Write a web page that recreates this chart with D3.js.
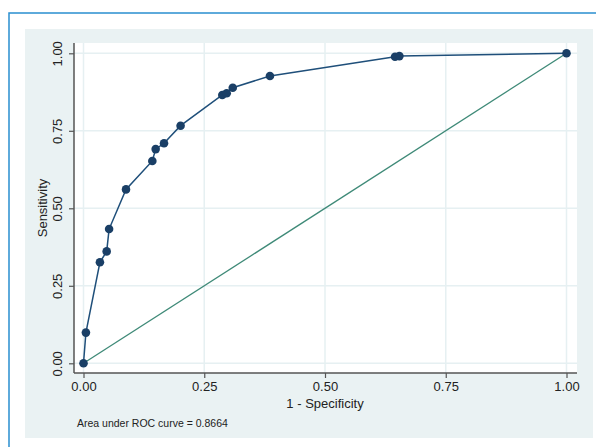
<!DOCTYPE html>
<html><head><meta charset="utf-8">
<script src="https://cdn.jsdelivr.net/npm/d3@7"></script>
<style>body{margin:0;background:#fff;font-family:"Liberation Sans",Arial,sans-serif;}</style>
</head><body>
<svg id="c" width="596" height="447"></svg>
<script>
const fpr = [0, 0.005, 0.034, 0.048, 0.053, 0.088, 0.1425, 0.1494, 0.1667, 0.201, 0.2874, 0.2965, 0.309, 0.386, 0.645, 0.654, 1];
const tpr = [0, 0.099, 0.326, 0.361, 0.433, 0.561, 0.6526, 0.691, 0.7097, 0.7665, 0.8655, 0.871, 0.889, 0.927, 0.989, 0.991, 1];
const ticks = [0, 0.25, 0.5, 0.75, 1];
const tickLabels = ["0.00", "0.25", "0.50", "0.75", "1.00"];
const aucText = "Area under ROC curve = 0.8664";

const svg = d3.select("#c");
// outer frame
svg.append("rect").attr("x",9).attr("y",13).attr("width",600).attr("height",450)
  .attr("fill","#fff").attr("stroke","#2a8fd0").attr("stroke-width",1.5);
// graph region
svg.append("rect").attr("x",25).attr("y",29).attr("width",568).attr("height",409).attr("fill","#eaf2f3");
// plot region
svg.append("rect").attr("x",74).attr("y",43).attr("width",503).attr("height",330).attr("fill","#fff");

const x = d3.scaleLinear().domain([0,1]).range([83.5,566.5]);
const y = d3.scaleLinear().domain([0,1]).range([363.3,53.3]);

// grid
const g = svg.append("g");
g.selectAll(".gx").data(ticks).join("line").attr("x1",d=>x(d)).attr("x2",d=>x(d)).attr("y1",43).attr("y2",373)
  .attr("stroke","#e6f0f2").attr("stroke-width",1.5);
g.selectAll(".gy").data(ticks).join("line").attr("y1",d=>y(d)).attr("y2",d=>y(d)).attr("x1",74).attr("x2",577)
  .attr("stroke","#e6f0f2").attr("stroke-width",1.5);

// axes
const xAxis = d3.axisBottom(x).tickValues(ticks).tickFormat((d,i)=>tickLabels[i]).tickSize(5).tickSizeOuter(0).tickPadding(4);
const gx = svg.append("g").attr("transform","translate(0,373)").call(xAxis);
gx.select(".domain").attr("d","M74,0H577").attr("stroke","#555").attr("stroke-width",1.5);
gx.selectAll(".tick line").attr("stroke","#555").attr("stroke-width",1.2);
gx.selectAll(".tick text").attr("font-size",13).attr("fill","#222").attr("font-family","Liberation Sans, Arial, sans-serif");

const yAxis = d3.axisLeft(y).tickValues(ticks).tickFormat((d,i)=>tickLabels[i]).tickSize(5).tickSizeOuter(0);
const gy = svg.append("g").attr("transform","translate(74,0)").call(yAxis);
gy.select(".domain").attr("d","M0,43V373").attr("stroke","#555").attr("stroke-width",1.5);
gy.selectAll(".tick line").attr("stroke","#555").attr("stroke-width",1.2);
gy.selectAll(".tick text").attr("font-size",13).attr("fill","#222").attr("font-family","Liberation Sans, Arial, sans-serif")
  .attr("x",0).attr("dy",null).attr("text-anchor","middle").attr("dominant-baseline","central")
  .attr("transform","translate(-17,0) rotate(-90)");

// titles
svg.append("text").attr("x",325).attr("y",408).attr("text-anchor","middle").attr("font-size",13).attr("fill","#222").text("1 - Specificity");
svg.append("text").attr("transform","translate(42,208) rotate(-90)").attr("text-anchor","middle").attr("dominant-baseline","central")
  .attr("font-size",13).attr("fill","#222").text("Sensitivity");
svg.append("text").attr("x",77).attr("y",426.5).attr("font-size",10.5).attr("fill","#222").text(aucText);

// diagonal
svg.append("line").attr("x1",x(0)).attr("y1",y(0)).attr("x2",x(1)).attr("y2",y(1)).attr("stroke","#3f8a78").attr("stroke-width",1.3);

// roc curve
const pts = fpr.map((d,i)=>[d,tpr[i]]);
svg.append("path").datum(pts).attr("d",d3.line().x(d=>x(d[0])).y(d=>y(d[1])))
  .attr("fill","none").attr("stroke","#1f4f7a").attr("stroke-width",1.5);
svg.selectAll(".pt").data(pts).join("circle").attr("cx",d=>x(d[0])).attr("cy",d=>y(d[1])).attr("r",4.3).attr("fill","#1a3f66");
</script>
</body></html>
